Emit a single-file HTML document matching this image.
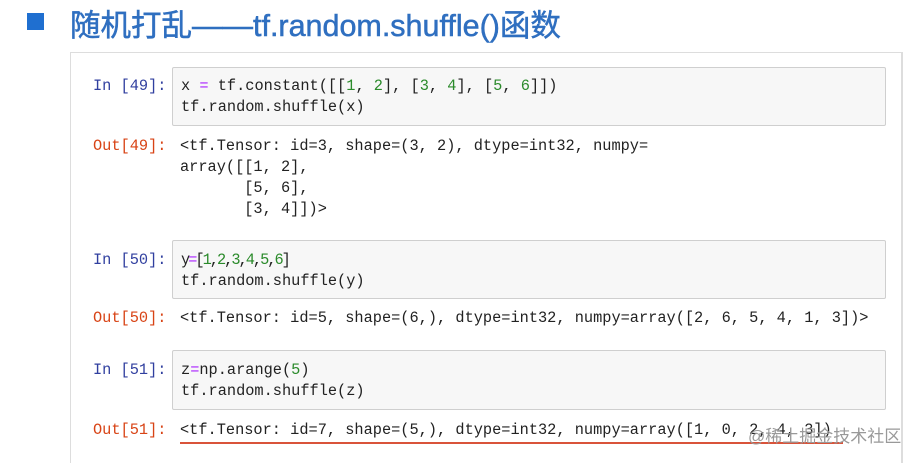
<!DOCTYPE html>
<html><head><meta charset="utf-8"><style>
body{margin:0;width:916px;height:451px;background:#fff;position:relative;overflow:hidden;font-family:"Liberation Mono",monospace;}
.t{position:absolute;left:70px;top:1px;font-family:"Liberation Sans","Noto Sans CJK SC",sans-serif;font-size:30.5px;color:#2f6fc0;white-space:nowrap;-webkit-text-stroke:0.5px #2f6fc0;}
.sq{position:absolute;left:27px;top:13px;width:17px;height:17px;background:#1f6fd0;}
.panel{position:absolute;left:70px;top:52px;width:830px;height:410px;border-left:1px solid #ddd;border-top:1px solid #ddd;border-right:2px solid #ddd;}
.box{position:absolute;left:172px;width:712px;background:#f7f7f7;border:1px solid #cfcfcf;border-radius:2px;}
.l{position:absolute;font-size:15.3px;white-space:pre;color:#222;line-height:21px;}
.pi{color:#303f9f;}
.po{color:#d84315;}
.g{color:#2a8a2a;}
.p{color:#aa22ff;}
</style></head><body>
<div class="sq"></div>
<div class="t">随机打乱——tf.random.shuffle()函数</div>
<div class="panel"></div>
<div class="box" style="top:67px;height:57px"></div>
<div class="box" style="top:240px;height:57px"></div>
<div class="box" style="top:350px;height:58px"></div>

<div class="l pi" style="left:93px;top:76px">In [49]:</div>
<div class="l" style="left:181px;top:76px">x <span class="p">=</span> tf.constant([[<span class="g">1</span>, <span class="g">2</span>], [<span class="g">3</span>, <span class="g">4</span>], [<span class="g">5</span>, <span class="g">6</span>]])</div>
<div class="l" style="left:181px;top:97px">tf.random.shuffle(x)</div>

<div class="l po" style="left:93px;top:136px">Out[49]:</div>
<div class="l" style="left:180px;top:136px">&lt;tf.Tensor: id=3, shape=(3, 2), dtype=int32, numpy=
array([[1, 2],
       [5, 6],
       [3, 4]])&gt;</div>

<div class="l pi" style="left:93px;top:250px">In [50]:</div>
<div class="l" style="left:181px;top:250px;letter-spacing:-2px">y<span class="p">=</span>[<span class="g">1</span>,<span class="g">2</span>,<span class="g">3</span>,<span class="g">4</span>,<span class="g">5</span>,<span class="g">6</span>]</div>
<div class="l" style="left:181px;top:271px">tf.random.shuffle(y)</div>

<div class="l po" style="left:93px;top:308px">Out[50]:</div>
<div class="l" style="left:180px;top:308px">&lt;tf.Tensor: id=5, shape=(6,), dtype=int32, numpy=array([2, 6, 5, 4, 1, 3])&gt;</div>

<div class="l pi" style="left:93px;top:360px">In [51]:</div>
<div class="l" style="left:181px;top:360px">z<span class="p">=</span>np.arange(<span class="g">5</span>)</div>
<div class="l" style="left:181px;top:381px">tf.random.shuffle(z)</div>

<div class="l po" style="left:93px;top:420px">Out[51]:</div>
<div class="l" style="left:180px;top:420px">&lt;tf.Tensor: id=7, shape=(5,), dtype=int32, numpy=array([1, 0, 2, 4, 3])</div>
<div style="position:absolute;left:180px;top:442px;width:663px;height:2px;background:#d9533a"></div>
<div style="position:absolute;left:748px;top:422px;font-family:'Liberation Sans','Noto Sans CJK SC',sans-serif;font-size:17px;color:#999;">@稀土掘金技术社区</div>
</body></html>
